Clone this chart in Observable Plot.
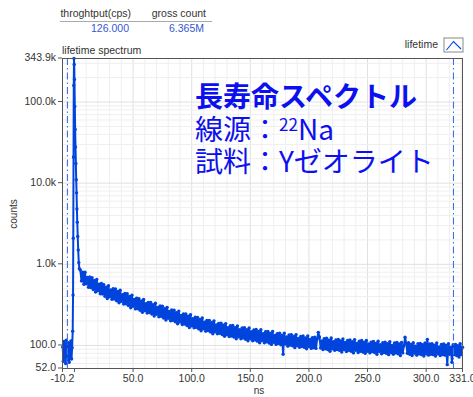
<!DOCTYPE html>
<html><head><meta charset="utf-8">
<script src="https://cdn.jsdelivr.net/npm/d3@7"></script>
<script src="https://cdn.jsdelivr.net/npm/@observablehq/plot@0.6"></script>
<style>
body{margin:0;background:#fff;}
#chart{position:relative;width:473px;height:397px;overflow:hidden;}
</style></head><body><div id="chart"></div>
<script>
// ---- data ----
const preTimes = [-10,-9.5,-9,-8.5,-8,-7.5,-7,-6.5,-6,-5.5,-5,-4.5,-4,-3.5,-3,-2.5,-2];
const preCounts = [96,64,112,70,104,60,116,74,98,66,108,62,100,72,114,68,94];
const peakTimes = [-1.5,-1.2,-1.0,-0.8,-0.6,-0.4,-0.2,0.0,0.3,0.6,0.9,1.2,1.5,1.8,2.1,2.4,2.8,3.2,3.7,4.2];
const peakCounts = [150,420,2100,21000,160000,343900,290000,190000,88000,46000,28000,17500,11000,7600,4800,3300,2200,1500,1050,880];
const tailStart = 5, tailStep = 1;
const tailCounts = [
850,625,797,566,797,574,687,522,699,518,
684,489,633,455,649,471,567,433,581,431,
562,403,524,379,544,397,482,370,500,374,
497,356,464,335,480,349,423,324,438,326,
433,310,403,291,417,304,368,282,381,284,
377,271,354,256,368,269,327,251,340,255,
339,244,318,230,331,242,294,226,306,229,
304,218,284,206,295,216,262,202,273,204,
271,196,254,185,265,194,235,181,245,184,
245,176,230,166,239,175,213,165,223,167,
222,160,209,152,218,160,194,150,204,153,
204,147,192,139,201,147,179,139,187,141,
188,136,178,130,186,136,166,129,175,131,
176,127,166,121,174,128,156,121,164,124,
165,119,156,114,164,121,148,114,155,117,
157,113,149,108,156,115,140,108,148,111,
149,107,141,103,149,109,133,103,140,106,
142,102,134,78,142,104,127,98,135,101,
136,99,129,94,136,100,122,95,129,97,
131,95,124,91,131,97,119,92,125,94,
126,92,120,145,127,93,114,89,121,91,
123,89,116,85,124,91,111,87,117,89,
119,87,114,83,120,89,109,84,115,87,
117,85,111,81,118,87,106,82,113,85,
115,83,109,80,115,85,104,81,110,84,
112,82,106,78,113,84,102,79,108,82,
110,80,105,77,111,82,100,78,107,81,
109,79,104,75,109,81,99,126,106,80,
108,78,103,75,108,80,98,76,105,79,
106,77,102,74,107,79,119,76,104,78,
105,77,101,74,107,79,96,75,103,77,
104,76,100,58,105,78,95,62,102,77,
103,75,99,72,105,77,95];
const markerTimes = [-6.0, 323.3];
const yTicks = [52,100,1000,10000,100000,343900];
const yTickLabels = ["52.0","100.0","1.0k","10.0k","100.0k","343.9k"];
const xTicks = [-10.2,0,50,100,150,200,250,300,331];
const xTickLabels = ["-10.2","","50.0","100.0","150.0","200.0","250.0","300.0","331.0"];
const headerNames = ["throghtput(cps)","gross count"];
const headerValues = ["126.000","6.365M"];
const panelTitle = "lifetime spectrum";
const legendLabel = "lifetime";
const yTitle = "counts";
const xTitle = "ns";
const annTitle = "長寿命スペクトル";
const annSourceLabel = "線源：";
const annIsotopeMass = "22";
const annIsotope = "Na";
const annSample = "試料：Yゼオライト";

// ---- build table ----
const rows = [];
preTimes.forEach((t,i)=>rows.push({t, c: preCounts[i]}));
peakTimes.forEach((t,i)=>rows.push({t, c: peakCounts[i]}));
tailCounts.forEach((c,i)=>rows.push({t: tailStart + i*tailStep, c}));

const xLab = new Map(xTicks.map((d,i)=>[d,xTickLabels[i]]));
const xMinor = d3.range(10, 331, 10).filter(d=>d%50!==0);
const xMajor = [50,100,150,200,250,300];
const yMinor = [];
for (let e=1;e<=5;e++) for (let m=2;m<=9;m++){const v=m*Math.pow(10,e); if(v>52 && v<343900) yMinor.push(v);}
const yMajor = [100,1000,10000,100000];

const blue = "#0044dd";
const sans = "'Liberation Sans', Arial, sans-serif";
const svg = Plot.plot({
  width:473, height:397,
  marginLeft:62, marginRight:11, marginTop:58, marginBottom:29,
  style:{fontFamily:sans, fontSize:"10.5px", color:"#333", background:"white"},
  x:{domain:[-10.2,331]},
  y:{type:"log", domain:[52,343900], axis:null},
  marks:[
    Plot.gridX({ticks:xMinor, stroke:"#efefef", strokeOpacity:1}),
    Plot.gridX({ticks:xMajor, stroke:"#e0e0e0", strokeOpacity:1}),
    Plot.gridY({ticks:yMinor, stroke:"#efefef", strokeOpacity:1}),
    Plot.gridY({ticks:yMajor, stroke:"#e0e0e0", strokeOpacity:1}),
    Plot.line(rows,{x:"t", y:"c", stroke:blue, strokeWidth:2}),
    Plot.dot(rows,{x:"t", y:"c", r:1.7, fill:blue, stroke:null}),
    Plot.ruleX(markerTimes,{stroke:"#3f6ee6", strokeWidth:1.1, strokeDasharray:"7,3,1.5,3"}),
    Plot.frame({stroke:"#555"}),
    Plot.axisX({ticks:xTicks, tickFormat:d=>xLab.get(d), tickSize:4, tickPadding:2, label:null, stroke:"#555"})
  ]
});
document.getElementById("chart").appendChild(svg);

const s = d3.select(svg);
// y axis ticks and labels through the plot's own y scale
const ys = svg.scale("y");
const yAxis = s.append("g").attr("font-family",sans).attr("font-size",10.5).attr("fill","#333").attr("text-anchor","end");
yTicks.forEach((v,i)=>{
  const py = ys.apply(v);
  yAxis.append("line").attr("x1",58).attr("x2",62).attr("y1",py).attr("y2",py).attr("stroke","#555");
  yAxis.append("text").attr("x",56).attr("y",py).attr("dy","0.32em").text(yTickLabels[i]);
});
// header
const hx = [131, 206];
headerNames.forEach((n,i)=>{
  s.append("text").attr("x",hx[i]).attr("y",17).attr("text-anchor","end")
   .attr("font-family",sans).attr("font-size",10.5).attr("fill","#333").text(n);
  s.append("text").attr("x",hx[i]-2).attr("y",32).attr("text-anchor","end")
   .attr("font-family",sans).attr("font-size",10.5).attr("fill","#3558d0").text(headerValues[i]);
});
s.append("line").attr("x1",60).attr("x2",212).attr("y1",21.5).attr("y2",21.5).attr("stroke","#aaa");
s.append("text").attr("x",62).attr("y",54).attr("text-anchor","start").attr("font-family",sans).attr("font-size",10.5).attr("fill","#333").text(panelTitle);
// legend
s.append("text").attr("x",438).attr("y",48).attr("text-anchor","end").attr("font-family",sans).attr("font-size",10.5).attr("fill","#333").text(legendLabel);
s.append("rect").attr("x",444).attr("y",38).attr("width",19).attr("height",14).attr("fill","white").attr("stroke","#888");
s.append("polyline").attr("points","446.5,50 453.5,41.5 461,49").attr("fill","none").attr("stroke",blue).attr("stroke-width",1.1);
// axis titles
s.append("text").attr("transform","translate(17,214) rotate(-90)").attr("text-anchor","middle")
 .attr("font-family",sans).attr("font-size",10).attr("fill","#333").text(yTitle);
s.append("text").attr("x",259).attr("y",394).attr("text-anchor","middle")
 .attr("font-family",sans).attr("font-size",10).attr("fill","#333").text(xTitle);
// annotation
const ann = s.append("g").attr("fill","#0d10ee").attr("text-anchor","start")
  .attr("font-family","'Noto Sans CJK JP', sans-serif").attr("font-size",28);
ann.append("text").attr("x",195).attr("y",107).attr("font-weight",700).text(annTitle);
const l2 = ann.append("text").attr("x",195).attr("y",140);
l2.append("tspan").text(annSourceLabel);
l2.append("tspan").attr("font-size",17).attr("dy",-9).text(annIsotopeMass);
l2.append("tspan").attr("dy",9).text(annIsotope);
ann.append("text").attr("x",195).attr("y",172).text(annSample);
</script></body></html>
